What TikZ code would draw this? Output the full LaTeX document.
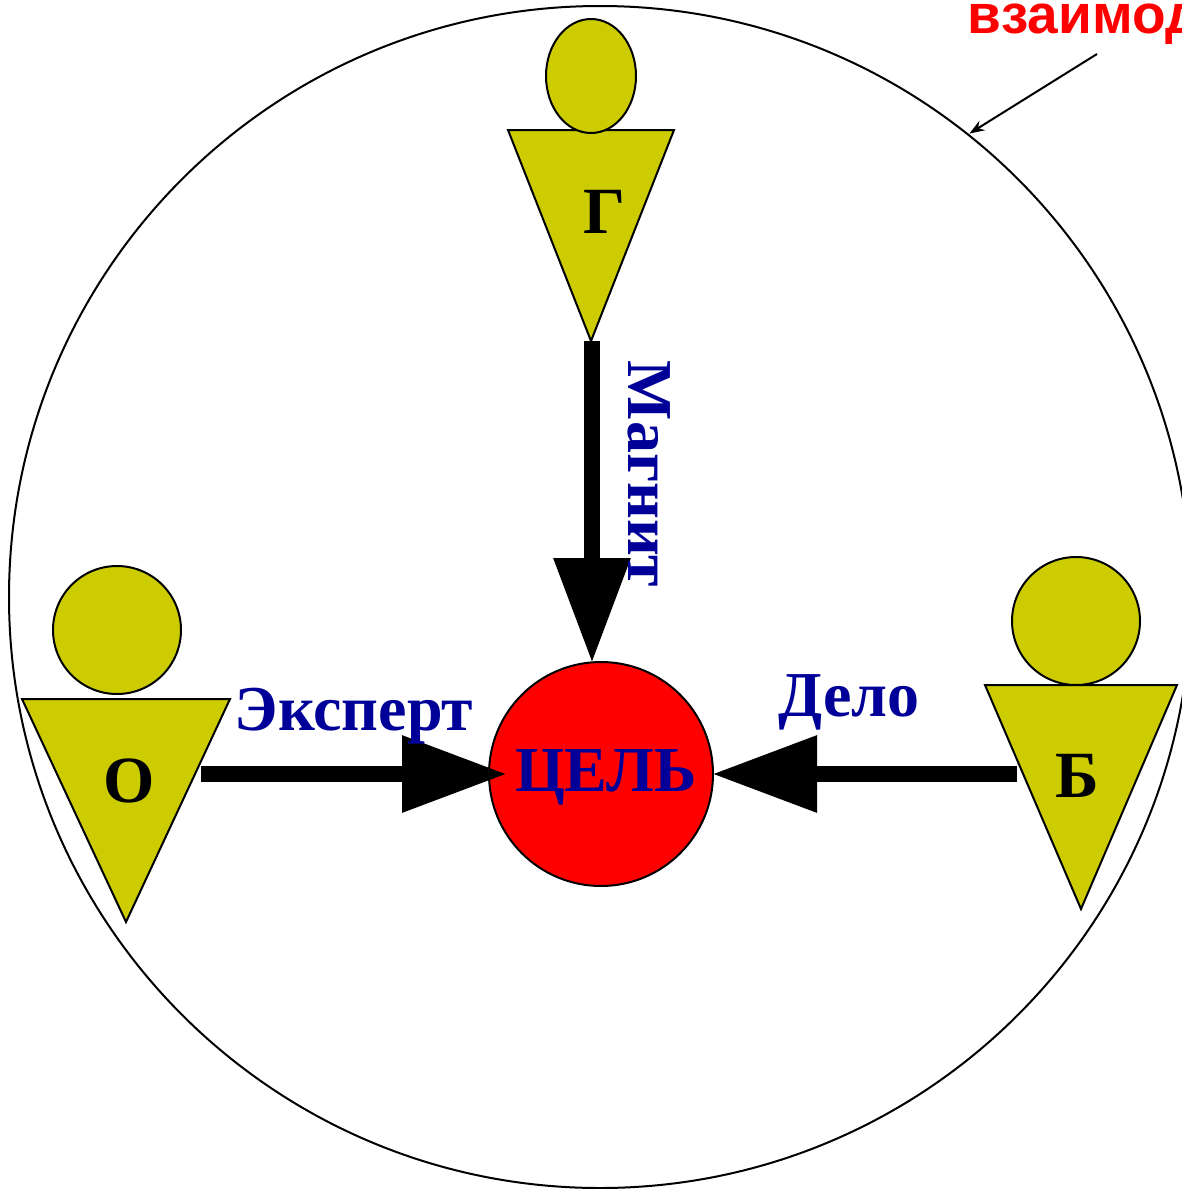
\documentclass[tikz,border=0pt]{standalone}
\usepackage{fontspec}
\setmainfont{Liberation Serif}
\newfontfamily\headfont{Liberation Sans}
\usetikzlibrary{arrows.meta,
                positioning,
                shapes.geometric}
\definecolor{olivefill}{HTML}{CCCC00}
\definecolor{labelblue}{HTML}{000099}
\tikzset{
        outline/.style={draw, line width=2pt},
        head/.style={outline, circle, fill=olivefill, inner sep=0pt, outer sep=0pt},
        body/.style={outline, isosceles triangle, isosceles triangle stretches,
                     shape border rotate=-90, fill=olivefill, inner sep=0pt,
                     outer sep=0pt, anchor=apex},
        letter/.style={font=\fontsize{66}{66}\selectfont\bfseries},
        word/.style={font=\fontsize{64}{64}\selectfont\bfseries, text=labelblue},
        myarrow/.style={-{Triangle[length=105pt,width=73pt]}, line width=16pt},
}

\begin{document}
\begin{tikzpicture}[x=1pt,y=-1pt]
    \useasboundingbox (0,0) rectangle (1181,1189);

    \node[outline, circle, minimum size=1182pt, inner sep=0pt] (ring) at (600,597) {};

    \node[body, minimum width=166pt, minimum height=211pt] (gbody) at (591,341) {};
    \node[head, ellipse, minimum width=90pt, minimum height=114pt] (ghead) at (591,76) {};
    \node[letter] (g) at (604,212) {Г};

    \node[body, minimum width=208pt, minimum height=223pt] (obody) at (126,922) {};
    \node[head, minimum size=128pt] (ohead) at (117,630) {};
    \node[letter] (o) at (129,781) {О};

    \node[body, minimum width=192pt, minimum height=224pt] (bbody) at (1081,909) {};
    \node[head, minimum size=128pt] (bhead) at (1076,621) {};
    \node[letter] (b) at (1077,776) {Б};

    \node[outline, circle, fill=red, minimum size=224pt, inner sep=0pt, outer sep=0pt] (goal) at (601,774) {};
    \coordinate (gstart) at (592,341);
    \coordinate (ostart) at (201,774);
    \coordinate (bstart) at (1017,774);

    \draw[myarrow] (gstart) -- ([yshift=-1pt]goal.north -| gstart);
    \draw[myarrow] (ostart) -- ([xshift=18pt]goal.west);
    \draw[myarrow] (bstart) -- ([xshift=-1pt]goal.east);

    \node[word] (goaltext) at (606,777) {ЦЕЛЬ};
    \node[word] (expert) at (354,716) {Эксперт};
    \node[word] (delo) at (849,702) {Дело};
    \node[word, rotate=-90] (magnit) at (649,474) {Магнит};

    \node[font=\headfont\fontsize{55}{55}\selectfont\bfseries, text=red, anchor=base west] (inter) at (964,33.5) {взаимод};
    \coordinate (interstart) at (1097,54);
    \draw[-{Stealth[length=15pt,width=11pt]}, line width=2pt] (interstart) -- ([xshift=5pt,yshift=-3pt]ring.52);
\end{tikzpicture}
\end{document}
